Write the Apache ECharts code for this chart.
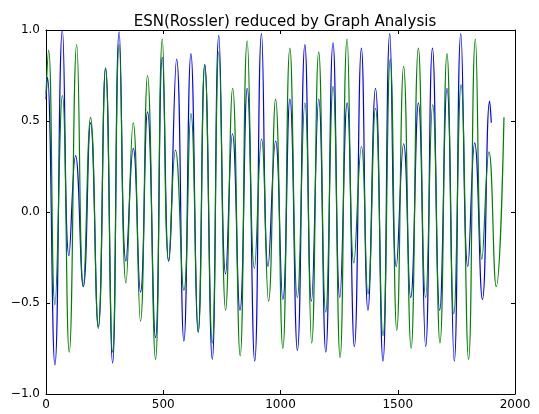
<!DOCTYPE html>
<html>
<head>
<meta charset="utf-8">
<script src="https://cdn.jsdelivr.net/npm/echarts@6/dist/echarts.min.js"></script>
<style>
  html, body { margin: 0; padding: 0; background: #fff; }
  #chart { width: 539px; height: 414px; }
</style>
</head>
<body>
<div id="chart"></div>
<script>
// axis ticks
const xTicks = [0, 500, 1000, 1500, 2000];
const yTicks = [-1.0, -0.5, 0.0, 0.5, 1.0];

// blue series: peaks and troughs
const blueX = [0, 6, 38, 70, 98, 126, 159, 190, 223, 254, 284, 312, 341, 372, 403, 433, 467, 496, 523, 557,
  588, 618, 649, 677, 709, 737, 766, 795, 827, 858, 890, 919, 947, 979, 1010, 1040, 1072, 1104, 1132, 1163,
  1193, 1224, 1253, 1284, 1315, 1345, 1373, 1405, 1437, 1466, 1494, 1525, 1555, 1588, 1619, 1648, 1679, 1710,
  1741, 1769, 1799, 1828, 1861, 1892, 1899];
const blueY = [0.62, 0.74, -0.84, 1.0, -0.24, 0.31, -0.41, 0.49, -0.63, 0.79, -0.83, 0.99, -0.27, 0.35, -0.44, 0.55, -0.69, 0.85, -0.27, 0.84,
  -0.71, 0.87, -0.66, 0.81, -0.81, 0.97, -0.34, 0.43, -0.54, 0.68, -0.82, 0.98, -0.30, 0.39, -0.48, 0.62, -0.76, 0.92, -0.49, 0.62,
  -0.77, 0.93, -0.47, 0.60, -0.74, 0.90, -0.54, 0.68, -0.82, 0.98, -0.30, 0.375, -0.47, 0.60, -0.74, 0.90, -0.54, 0.68,
  -0.82, 0.98, -0.30, 0.38, -0.48, 0.61, 0.49];

// green series
const greenX = [0, 11, 38, 70, 99, 131, 159, 190, 223, 254, 284, 312, 341, 372, 403, 433, 467, 496, 523, 552,
  588, 618, 649, 677, 709, 737, 766, 796, 828, 858, 889, 919, 949, 979, 1010, 1040, 1072, 1104, 1133, 1163,
  1193, 1224, 1254, 1284, 1313, 1345, 1373, 1405, 1437, 1468, 1496, 1525, 1557, 1588, 1619, 1649, 1680, 1710,
  1739, 1770, 1802, 1831, 1859, 1889, 1920, 1953];
const greenY = [0.65, 0.89, -0.51, 0.64, -0.77, 0.92, -0.41, 0.52, -0.64, 0.79, -0.77, 0.92, -0.39, 0.49, -0.60, 0.75, -0.81, 0.95, -0.27, 0.34,
  -0.43, 0.54, -0.66, 0.81, -0.72, 0.88, -0.54, 0.68, -0.79, 0.94, -0.31, 0.40, -0.49, 0.62, -0.75, 0.90, -0.47, 0.60, -0.72, 0.88,
  -0.55, 0.69, -0.80, 0.95, -0.28, 0.36, -0.45, 0.57, -0.68, 0.84, -0.65, 0.80, -0.75, 0.90, -0.47, 0.59, -0.72, 0.87,
  -0.56, 0.70, -0.81, 0.95, -0.26, 0.33, -0.41, 0.52];

const zip = (xs, ys) => xs.map((x, i) => [x, ys[i]]);

const chart = echarts.init(document.getElementById('chart'));
const font = 'DejaVu Sans';
const frame = { show: true, onZero: false, lineStyle: { color: '#000', width: 1 } };
const tick = { show: true, inside: true, length: 4, lineStyle: { color: '#000' } };
const xBase = { type: 'value', min: xTicks[0], max: xTicks[xTicks.length - 1], interval: 500,
  axisLine: frame, axisTick: tick, splitLine: { show: false } };
const yBase = { type: 'value', min: yTicks[0], max: yTicks[yTicks.length - 1], interval: 0.5,
  axisLine: frame, axisTick: tick, splitLine: { show: false } };

const option = {
  animation: false,
  backgroundColor: '#fff',
  title: {
    text: 'ESN(Rossler) reduced by Graph Analysis',
    left: 280, top: 10, textAlign: 'center',
    textStyle: { fontFamily: font, fontSize: 15, fontWeight: 'normal', color: '#000' }
  },
  grid: { left: 46, right: 24, top: 30, bottom: 20, containLabel: false },
  xAxis: [
    Object.assign({}, xBase, { position: 'bottom',
      axisLabel: { fontFamily: font, fontSize: 12, color: '#000', margin: 5, formatter: v => String(v) } }),
    Object.assign({}, xBase, { position: 'top', axisLabel: { show: false } })
  ],
  yAxis: [
    Object.assign({}, yBase, { position: 'left',
      axisLabel: { fontFamily: font, fontSize: 12, color: '#000', margin: 6,
        formatter: v => v.toFixed(1).replace('-', '\u2212') } }),
    Object.assign({}, yBase, { position: 'right', axisLabel: { show: false } })
  ],
  series: [
    { type: 'line', data: zip(blueX, blueY), smooth: 0.5, showSymbol: false, clip: true,
      lineStyle: { color: '#0000ff', width: 1.2 }, itemStyle: { color: '#0000ff' } },
    { type: 'line', data: zip(greenX, greenY), smooth: 0.5, showSymbol: false, clip: true,
      lineStyle: { color: '#008000', width: 1.2 }, itemStyle: { color: '#008000' } }
  ]
};
chart.setOption(option);
</script>
</body>
</html>
